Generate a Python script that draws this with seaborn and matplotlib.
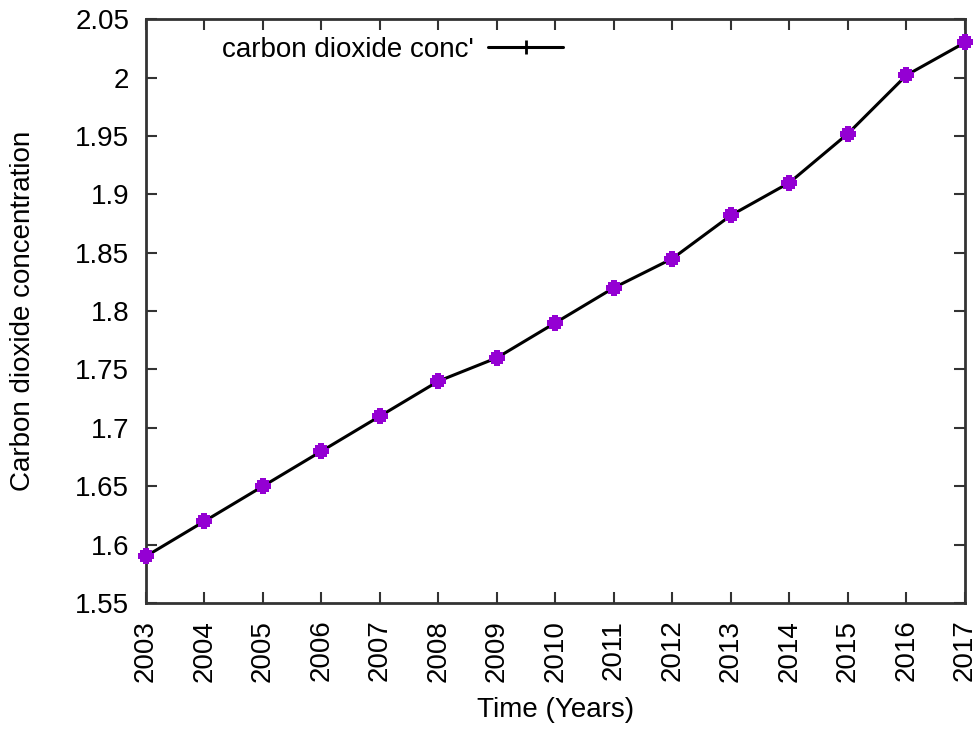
import matplotlib
matplotlib.use("Agg")
import matplotlib.pyplot as plt
import seaborn as sns
import pandas as pd
from matplotlib.lines import Line2D
from matplotlib.ticker import FuncFormatter

years = [2003, 2004, 2005, 2006, 2007, 2008, 2009, 2010, 2011, 2012, 2013, 2014, 2015, 2016, 2017]
co2 = [1.59, 1.62, 1.65, 1.68, 1.71, 1.74, 1.76, 1.79, 1.82, 1.845, 1.882, 1.91, 1.952, 2.002, 2.03]
yticks = [1.55, 1.6, 1.65, 1.7, 1.75, 1.8, 1.85, 1.9, 1.95, 2.0, 2.05]

sns.set_style("ticks")
plt.rcParams['font.family'] = ['Liberation Sans', 'DejaVu Sans']

df = pd.DataFrame({"year": years, "co2": co2})

fig = plt.figure(figsize=(9.79, 7.36), dpi=100)
ax = fig.add_axes([0.149, 0.1807, 0.8367, 0.7933])

sns.lineplot(data=df, x="year", y="co2", ax=ax, color="black", linewidth=2.2,
             marker="s", markersize=9, markerfacecolor="#9400D3",
             markeredgecolor="#9400D3", markeredgewidth=0, zorder=3)
ax.plot(years, co2, linestyle="none", marker="P", markersize=12,
        color="#9400D3", markeredgewidth=0, zorder=4, clip_on=False)
for l in ax.lines:
    l.set_clip_on(False)

ax.set_xlim(2003, 2017)
ax.set_ylim(1.55, 2.05)
ax.set_xticks(years)
ax.set_xticklabels([str(y) for y in years], rotation=90)
ax.set_yticks(yticks)
ax.yaxis.set_major_formatter(FuncFormatter(lambda v, p: f"{v:g}"))

ax.tick_params(direction="in", length=8, width=1.5, top=True, right=True,
               labelsize=20, colors="#333333", labelcolor="black")
ax.tick_params(axis="x", pad=12)
ax.tick_params(axis="y", pad=12)
for s in ax.spines.values():
    s.set_linewidth(2)
    s.set_color("#333333")

ax.set_xlabel("Time (Years)", fontsize=20, labelpad=11, color="black")
ax.set_ylabel("Carbon dioxide concentration", fontsize=20, labelpad=28, color="black")

handle = Line2D([0], [0], color="black", linewidth=2.2, marker="|",
                markersize=10, markeredgewidth=2)
ax.legend([handle], ["carbon dioxide conc'"], loc="upper left",
          bbox_to_anchor=(0.063, 1.012), frameon=False, fontsize=20,
          markerfirst=False, handlelength=2.7, handletextpad=0.5,
          labelcolor="black")

fig.savefig("out.png", dpi=100)
